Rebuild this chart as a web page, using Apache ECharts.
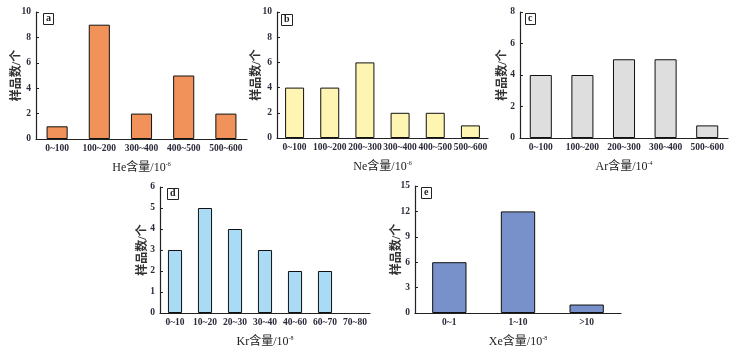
<!DOCTYPE html>
<html>
<head>
<meta charset="utf-8">
<script src="https://cdn.jsdelivr.net/npm/echarts@6/dist/echarts.min.js"></script>
<style>
  html, body { margin: 0; padding: 0; background: #fff; }
  #chart { width: 739px; height: 350px; }
</style>
</head>
<body>
<div id="chart"></div>
<script>
// 各气体含量分布数据
const heCats = ['0~100', '100~200', '300~400', '400~500', '500~600'];
const heVals = [1, 9, 2, 5, 2];
const neCats = ['0~100', '100~200', '200~300', '300~400', '400~500', '500~600'];
const neVals = [4, 4, 6, 2, 2, 1];
const arCats = ['0~100', '100~200', '200~300', '300~400', '500~600'];
const arVals = [4, 4, 5, 5, 0.8];
const krCats = ['0~10', '10~20', '20~30', '30~40', '40~60', '60~70', '70~80'];
const krVals = [3, 5, 4, 3, 2, 2, 0];
const xeCats = ['0~1', '1~10', '>10'];
const xeVals = [6, 12, 1];

const panels = [
  { tag: 'a', gas: 'He', exp: '-6', cats: heCats, vals: heVals, max: 10, step: 2, color: '#F0925A', bw: '50%',
    grid: { left: 36, top: 12, width: 211, height: 127 }, box: [43, 13], gap: 13 },
  { tag: 'b', gas: 'Ne', exp: '-6', cats: neCats, vals: neVals, max: 10, step: 2, color: '#FFF5B2', bw: '54%',
    grid: { left: 277, top: 12, width: 211, height: 126 }, box: [281, 14], gap: 14 },
  { tag: 'c', gas: 'Ar', exp: '-4', cats: arCats, vals: arVals, max: 8, step: 2, color: '#DEDEDE', bw: '53%',
    grid: { left: 520, top: 12, width: 208, height: 126 }, box: [525, 13], gap: 11 },
  { tag: 'd', gas: 'Kr', exp: '-8', cats: krCats, vals: krVals, max: 6, step: 1, color: '#A9DBF5', bw: '47%',
    grid: { left: 160, top: 187, width: 210, height: 126 }, box: [167, 188], gap: 11 },
  { tag: 'e', gas: 'Xe', exp: '-8', cats: xeCats, vals: xeVals, max: 15, step: 3, color: '#7891CB', bw: '50%',
    grid: { left: 415, top: 186, width: 206, height: 127 }, box: [421, 187], gap: 12 }
];

const fontFam = '"Liberation Serif", "Noto Sans CJK SC", serif';
const axisCol = '#222';

let grids = [], xAxes = [], yAxes = [], series = [], titles = [];
panels.forEach((p, i) => {
  grids.push(p.grid);
  titles.push({
    text: p.tag, left: p.box[0], top: p.box[1],
    padding: [0, 3, 1, 3],
    borderColor: '#222', borderWidth: 1,
    textStyle: { fontFamily: fontFam, fontSize: 10, fontWeight: 'bold', color: '#222', lineHeight: 11 }
  });
  xAxes.push({
    type: 'category', gridIndex: i, data: p.cats,
    name: '{n|' + p.gas + '含量/10}{s|' + p.exp + '}',
    nameLocation: 'middle', nameGap: 22, nameMoveOverlap: false,
    nameTextStyle: {
      rich: {
        n: { fontFamily: fontFam, fontSize: 12, color: '#222' },
        s: { fontFamily: fontFam, fontSize: 6, color: '#222', padding: [0, 0, 8, 0] }
      }
    },
    axisLine: { lineStyle: { color: axisCol, width: 1.2 } },
    axisTick: { inside: true, length: 3, lineStyle: { color: axisCol } },
    axisLabel: { interval: 0, margin: 5, fontFamily: fontFam, fontSize: 9.5, fontWeight: 'bold', color: '#2a2a3a' }
  });
  yAxes.push({
    type: 'value', gridIndex: i, min: 0, max: p.max, interval: p.step,
    name: '样品数/个', nameLocation: 'middle', nameGap: p.gap, nameMoveOverlap: false,
    nameTextStyle: { fontFamily: fontFam, fontSize: 12, fontWeight: 'bold', color: '#333' },
    splitLine: { show: false },
    axisLine: { show: true, lineStyle: { color: axisCol, width: 1.2 } },
    axisTick: { show: true, inside: true, length: 3, lineStyle: { color: axisCol } },
    axisLabel: { margin: 5, fontFamily: fontFam, fontSize: 9.5, fontWeight: 'bold', color: '#2a2a3a' }
  });
  series.push({
    type: 'bar', xAxisIndex: i, yAxisIndex: i,
    // 0 个样品的区间不画柱
    data: p.vals.map(v => (v === 0 ? null : v)),
    barWidth: p.bw,
    itemStyle: { color: p.color, borderColor: '#111', borderWidth: 1 },
    silent: true
  });
});

const myChart = echarts.init(document.getElementById('chart'));
myChart.setOption({
  animation: false,
  title: titles,
  grid: grids,
  xAxis: xAxes,
  yAxis: yAxes,
  series: series
});
</script>
</body>
</html>
